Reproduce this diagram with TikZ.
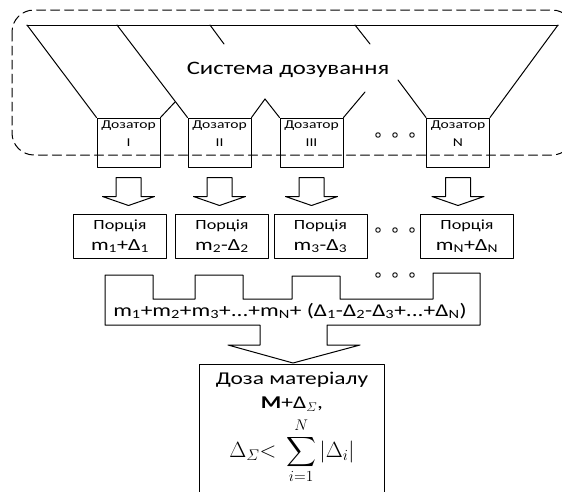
\documentclass[tikz,border=0pt]{standalone}
\usepackage{fix-cm}
\usepackage{amsmath}
\usepackage{fontspec}
\setmainfont[FakeStretch=1.3]{Carlito}
\usetikzlibrary{calc}

% hollow block arrow: #1 top centre, #2 tip
\newcommand{\hollowarrow}[2]{%
  \draw let \p1=(#1), \p2=(#2) in
    (\x1-12.5pt,\y1) -- (\x1-12.5pt,\y2+9pt) -- (\x1-26pt,\y2+9pt) -- (\x1,\y2)
    -- (\x1+26pt,\y2+9pt) -- (\x1+12.5pt,\y2+9pt) -- (\x1+12.5pt,\y1) -- cycle;}
\newcommand{\sub}[1]{\textsubscript{#1}}

\begin{document}
\begin{tikzpicture}[x=1pt,y=-1pt,line width=1pt,line cap=round,line join=round,
  dozbox/.style={draw,minimum width=63pt,minimum height=49pt,inner sep=0pt},
  doztext/.style={anchor=north,align=center,inner sep=3pt,font=\fontsize{12}{18}\selectfont},
  porbox/.style={draw,minimum width=93pt,minimum height=44pt,inner sep=0pt,align=center,
    font=\fontsize{14}{21}\selectfont},
  framedash/.style={dash pattern=on 9pt off 5pt,rounded corners=22pt}]
  \useasboundingbox (0,0) rectangle (562,491);

  % dosing system frame and funnels
  \draw[framedash] (12,10) rectangle (574,155);
  \node[font=\fontsize{19}{22}\selectfont] (title) at (288,70) {Система дозування};

  \node[dozbox,label={[doztext]north:{Дозатор\\I}}] (doz1) at (128.5,142.5) {};
  \node[dozbox,label={[doztext]north:{Дозатор\\II}}] (doz2) at (219.5,142.5) {};
  \node[dozbox,label={[doztext]north:{Дозатор\\III}}] (doz3) at (311.5,142.5) {};
  \node[dozbox,label={[doztext]north:{Дозатор\\N}}] (dozN) at (458,142.5) {};

  \draw (27,25) -- (558,25);
  \draw (27,25) -- (doz1.north west);
  \draw (doz1.north east) -- (175,102);
  \draw (117,25) -- (doz2.north west);
  \draw (doz2.north east) -- (265,99);
  \draw (210,25) -- (224,44);
  \draw (265,99) -- (doz3.north west);
  \draw (doz3.north east) -- (365,92);
  \draw (355,25) -- (370,44);
  \draw (398,80) -- (dozN.north west);
  \draw (dozN.north east) -- (558,25);

  % portions
  \node[porbox] (por1) at (120,236) {Порція\\{\fontsize{17}{21}\selectfont m\sub{1}+Δ\sub{1}}};
  \node[porbox] (por2) at (222,236) {Порція\\{\fontsize{17}{21}\selectfont m\sub{2}-Δ\sub{2}}};
  \node[porbox] (por3) at (320.5,236) {Порція\\{\fontsize{17}{21}\selectfont m\sub{3}-Δ\sub{3}}};
  \node[porbox] (porN) at (467,236) {Порція\\{\fontsize{17}{21}\selectfont m\sub{N}+Δ\sub{N}}};

  \foreach \d in {doz1,doz2,doz3,dozN}
    \hollowarrow{$(\d.south)+(0,10)$}{$(\d.south |- por1.north)+(0,-8)$};

  \foreach \y in {135,230,275}
    \foreach \x in {378,395,412}
      \draw[line width=0.9pt] (\x,\y) circle (2.3pt);

  % collector with the outgoing arrow
  \node[font=\fontsize{18}{20}\selectfont] (sum) at (290,311)
    {m\sub{1}+m\sub{2}+m\sub{3}+...+m\sub{N}+
     (Δ\sub{1}-Δ\sub{2}-Δ\sub{3}+...+Δ\sub{N})};
  \draw (105,325) -- (105,275) -- (153,275) -- (153,299) -- (195,299) -- (195,275)
    -- (243,275) -- (243,299) -- (292,299) -- (292,276) -- (340,276) -- (340,299)
    -- (433,299) -- (433,273) -- (480,273) -- (480,325) -- (327,325) -- (327,345)
    -- (360,345) -- (293,363) -- (228,345) -- (260,345) -- (260,325) -- cycle;

  % dose
  \node[minimum width=184pt,minimum height=127pt,anchor=north,align=center,inner sep=0pt,
    font=\fontsize{18}{24}\selectfont] (dose) at (292,364)
    {Доза матеріалу\\
     \textbf{M}+Δ\sub{$\varSigma$},\\[6pt]
     {\fontsize{22}{26}\selectfont$\Delta_{\varSigma}{<}\;\displaystyle\sum_{i=1}^{N}|\Delta_{i}|$}};
  \draw (dose.south west) -- (dose.north west) -- (dose.north east) -- (dose.south east);
\end{tikzpicture}
\end{document}
